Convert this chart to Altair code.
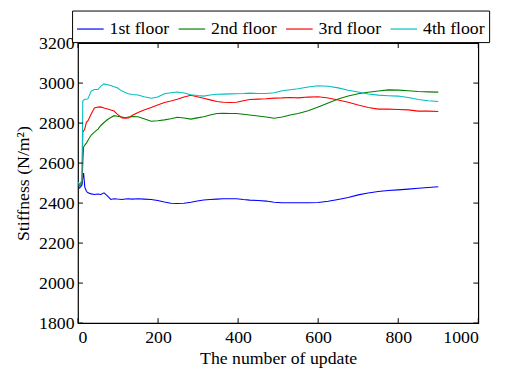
import altair as alt
import pandas as pd

updates = [0, 4, 8, 10, 12, 14, 17, 21, 25, 33,
           41, 50, 57, 65, 74, 82, 90, 98, 110, 118,
           126, 135, 150, 165, 183, 199, 216, 232, 248, 265,
           282, 298, 314, 330, 347, 363, 380, 396, 413, 429,
           450, 470, 490, 510, 530, 550, 575, 600, 625, 650,
           675, 700, 725, 750, 775, 800, 825, 850, 875, 900]

floor1 = [2480, 2475, 2485, 2490, 2530, 2550, 2480, 2459, 2451, 2446,
          2443, 2445, 2443, 2451, 2435, 2418, 2422, 2420, 2418, 2420,
          2422, 2420, 2422, 2420, 2418, 2413, 2405, 2399, 2398, 2399,
          2404, 2410, 2415, 2418, 2420, 2422, 2422, 2422, 2418, 2415,
          2413, 2410, 2404, 2402, 2402, 2402, 2402, 2403, 2409, 2418,
          2428, 2441, 2450, 2458, 2463, 2466, 2470, 2474, 2478, 2482]
floor2 = [2490, 2485, 2495, 2500, 2600, 2680, 2690, 2700, 2714, 2740,
          2755, 2770, 2788, 2803, 2818, 2828, 2837, 2834, 2830, 2827,
          2830, 2833, 2832, 2822, 2809, 2812, 2816, 2822, 2829, 2825,
          2820, 2826, 2832, 2840, 2848, 2849, 2848, 2848, 2844, 2840,
          2835, 2830, 2824, 2830, 2840, 2848, 2862, 2880, 2900, 2920,
          2935, 2947, 2954, 2960, 2966, 2965, 2962, 2958, 2956, 2955]
floor3 = [2500, 2495, 2505, 2510, 2755, 2760, 2771, 2804, 2812, 2845,
          2875, 2880, 2881, 2875, 2870, 2865, 2860, 2845, 2826, 2824,
          2825, 2838, 2853, 2865, 2878, 2890, 2903, 2910, 2919, 2930,
          2939, 2932, 2924, 2916, 2908, 2904, 2903, 2904, 2912, 2918,
          2920, 2922, 2925, 2926, 2928, 2926, 2930, 2932, 2925, 2915,
          2904, 2890, 2878, 2870, 2870, 2868, 2866, 2860, 2860, 2858]
floor4 = [2505, 2495, 2505, 2515, 2911, 2915, 2919, 2919, 2922, 2960,
          2968, 2968, 2985, 2996, 2992, 2988, 2982, 2977, 2960, 2953,
          2947, 2943, 2940, 2932, 2924, 2930, 2947, 2952, 2955, 2950,
          2942, 2938, 2935, 2940, 2944, 2945, 2946, 2947, 2948, 2950,
          2948, 2948, 2952, 2962, 2967, 2972, 2980, 2987, 2984, 2976,
          2964, 2955, 2945, 2940, 2937, 2935, 2928, 2918, 2912, 2908]

series_names = ["1st floor", "2nd floor", "3rd floor", "4th floor"]
series_colors = ["#0000FF", "#008000", "#FF0000", "#00BFBF"]
x_ticks = [0, 200, 400, 600, 800, 1000]
y_ticks = [1800, 2000, 2200, 2400, 2600, 2800, 3000, 3200]

rows = []
for name, vals in zip(series_names, [floor1, floor2, floor3, floor4]):
    for i, (u, v) in enumerate(zip(updates, vals)):
        rows.append({"update": u, "stiffness": v, "floor": name, "order": i})
df = pd.DataFrame(rows)

W, H = 406, 284
FONT = "Liberation Serif"

xscale = alt.Scale(domain=[0, 1000], nice=False)
yscale = alt.Scale(domain=[1800, 3200], nice=False)

axis_common = dict(ticks=False, domain=False, grid=False, format="d",
                   labelFont=FONT, labelFontSize=18, labelColor="black",
                   titleFont=FONT, titleFontSize=18, titleColor="black",
                   titleFontWeight="normal")

lines = alt.Chart(df).mark_line(strokeWidth=1.1).encode(
    x=alt.X("update:Q", scale=xscale, title="The number of update",
            axis=alt.Axis(values=x_ticks, labelPadding=6, titlePadding=3, **axis_common)),
    y=alt.Y("stiffness:Q", scale=yscale, title="Stiffness (N/m²)",
            axis=alt.Axis(values=y_ticks, labelPadding=4, titlePadding=6, **axis_common)),
    color=alt.Color("floor:N", scale=alt.Scale(domain=series_names, range=series_colors),
                    title=None,
                    legend=alt.Legend(orient="none", legendX=-6, legendY=-33,
                                      direction="horizontal", symbolType="stroke",
                                      symbolSize=729, symbolStrokeWidth=1.2,
                                      strokeColor="black", fillColor="white",
                                      padding=4, labelOffset=5, columnPadding=6,
                                      labelFont=FONT, labelFontSize=18, labelColor="black")),
    order="order:Q",
)

xt = pd.DataFrame({"v": x_ticks})
yt = pd.DataFrame({"v": y_ticks})
tick_b = alt.Chart(xt).mark_rule(color="black").encode(
    x=alt.X("v:Q", scale=xscale), y=alt.value(H), y2=alt.value(H - 5))
tick_t = alt.Chart(xt).mark_rule(color="black").encode(
    x=alt.X("v:Q", scale=xscale), y=alt.value(0), y2=alt.value(5))
tick_l = alt.Chart(yt).mark_rule(color="black").encode(
    y=alt.Y("v:Q", scale=yscale), x=alt.value(0), x2=alt.value(5))
tick_r = alt.Chart(yt).mark_rule(color="black").encode(
    y=alt.Y("v:Q", scale=yscale), x=alt.value(W), x2=alt.value(W - 5))

chart = alt.layer(lines, tick_b, tick_t, tick_l, tick_r).properties(
    width=W, height=H,
    autosize=alt.AutoSizeParams(type="none"),
    padding={"left": 71, "top": 33, "right": 20, "bottom": 45},
    background="white",
).configure_view(stroke="black", strokeWidth=1.2)

chart.save("out.html", embed_options={"renderer": "svg", "actions": False})
